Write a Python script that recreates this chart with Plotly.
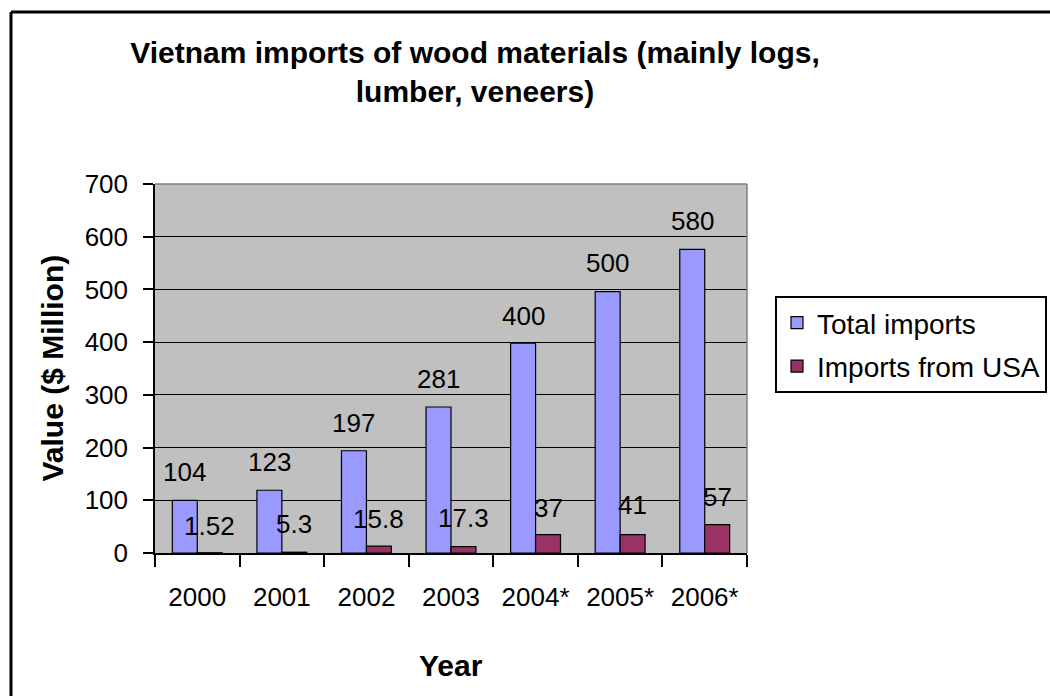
import plotly.graph_objects as go

years = ["2000", "2001", "2002", "2003", "2004*", "2005*", "2006*"]
total_bar = [100, 119, 194, 277, 398, 496, 576]
usa_bar = [0.5, 1.5, 13, 12, 35, 35, 54]
total_labels = [104, 123, 197, 281, 400, 500, 580]
usa_labels = [1.52, 5.3, 15.8, 17.3, 37, 41, 57]

FONT = "Arial, Liberation Sans, sans-serif"

W, H = 1050, 696
L, R, T, B = 155, 747, 184, 553
pw, ph = R - L, B - T


def px(x):
    return (x - L) / pw


def py(y):
    return (B - y) / ph


fig = go.Figure()
fig.add_trace(go.Bar(
    x=years, y=total_bar, name="Total imports",
    marker=dict(color="#9999FF", line=dict(color="black", width=1.2)),
    legendgroup="a",
))
fig.add_trace(go.Bar(
    x=years, y=usa_bar, name="Imports from USA",
    marker=dict(color="#993366", line=dict(color="black", width=1.2)),
    legendgroup="b",
))

annotations = []
for i, v in enumerate(total_labels):
    annotations.append(dict(x=i, y=v, xref="x", yref="y", text=str(v),
                            showarrow=False, xshift=-12.5, yshift=26,
                            yanchor="middle", xanchor="center",
                            font=dict(family=FONT, size=26, color="black")))
for i, v in enumerate(usa_labels):
    annotations.append(dict(x=i, y=v, xref="x", yref="y", text=str(v),
                            showarrow=False, xshift=12.5, yshift=26,
                            yanchor="middle", xanchor="center",
                            font=dict(family=FONT, size=26, color="black")))

annotations.append(dict(x=px(52), y=0.5, xref="paper", yref="paper",
                        text="Value ($ Million)", textangle=-90, showarrow=False,
                        xanchor="center", yanchor="middle",
                        font=dict(family=FONT, size=30, color="black", weight="bold")))
annotations.append(dict(x=0.5, y=py(665), xref="paper", yref="paper",
                        text="Year", showarrow=False,
                        xanchor="center", yanchor="middle",
                        font=dict(family=FONT, size=30, color="black", weight="bold")))

shapes = [
    dict(type="line", xref="paper", yref="paper", x0=px(11), x1=px(1100),
         y0=py(12), y1=py(12), line=dict(color="black", width=3)),
    dict(type="line", xref="paper", yref="paper", x0=px(11), x1=px(11),
         y0=py(12), y1=py(760), line=dict(color="black", width=3)),
    dict(type="line", xref="paper", yref="paper", x0=0, x1=1, y0=1, y1=1,
         line=dict(color="#808080", width=1.5)),
    dict(type="line", xref="paper", yref="paper", x0=1, x1=1, y0=0, y1=1,
         line=dict(color="#808080", width=1.5)),
]

fig.update_layout(
    width=W, height=H,
    margin=dict(l=L, r=W - R, t=T, b=H - B, autoexpand=False),
    paper_bgcolor="white",
    plot_bgcolor="#C0C0C0",
    barmode="group",
    bargap=0.41,
    bargroupgap=0,
    title=dict(
        text="Vietnam imports of wood materials (mainly logs,<br>lumber, veneers)",
        x=475 / W, xanchor="center", xref="container",
        y=1 - 63 / H, yanchor="top", yref="container",
        font=dict(family=FONT, size=30, color="black", weight="bold"),
    ),
    legend=dict(
        x=px(775), y=py(296), xanchor="left", yanchor="top",
        bordercolor="black", borderwidth=2, bgcolor="white",
        font=dict(family=FONT, size=28, color="black"),
        tracegroupgap=4,
    ),
    xaxis=dict(
        type="category", categoryorder="array", categoryarray=years,
        range=[-0.5, len(years) - 0.5],
        tickson="boundaries", ticks="outside", ticklen=12,
        tickcolor="black", tickwidth=1.5, showline=True, linecolor="black",
        linewidth=1.5, showgrid=False, ticklabelstandoff=20,
        tickangle=0,
        tickfont=dict(family=FONT, size=26, color="black"),
    ),
    yaxis=dict(
        range=[0, 700], dtick=100, ticks="outside", ticklen=10,
        tickcolor="black", tickwidth=1.5, showline=True, linecolor="black",
        linewidth=1.5, showgrid=True, gridcolor="black", gridwidth=1,
        zeroline=False, ticklabelstandoff=10,
        tickfont=dict(family=FONT, size=26, color="black"),
    ),
    annotations=annotations,
    shapes=shapes,
    showlegend=True,
)

fig.write_html("out.html", config={"displayModeBar": False},
               post_script="document.body.style.margin='0';")
